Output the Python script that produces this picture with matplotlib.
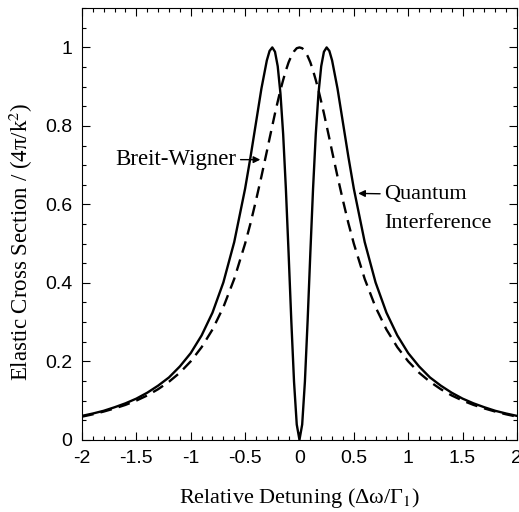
import numpy as np
import matplotlib.pyplot as plt
from matplotlib.ticker import MultipleLocator

# values (positive half; curves are symmetric)
x_half = [0.0, 0.025, 0.05, 0.075, 0.1, 0.125, 0.15, 0.175, 0.2, 0.225, 0.25,
          0.275, 0.3, 0.35, 0.4, 0.45, 0.5, 0.6, 0.7, 0.8, 0.9, 1.0,
          1.1, 1.2, 1.3, 1.4, 1.5, 1.6, 1.7, 1.8, 1.9, 2.0]
breit_wigner = [1.0, 0.998, 0.990, 0.978, 0.962, 0.941, 0.917, 0.891, 0.862, 0.832, 0.800,
                0.768, 0.735, 0.671, 0.610, 0.552, 0.500, 0.410, 0.338, 0.281, 0.236, 0.200,
                0.171, 0.148, 0.129, 0.113, 0.100, 0.089, 0.080, 0.072, 0.065, 0.059]
quantum = [0.0, 0.039, 0.148, 0.303, 0.476, 0.640, 0.779, 0.883, 0.952, 0.989, 1.0,
           0.991, 0.967, 0.895, 0.808, 0.721, 0.640, 0.504, 0.401, 0.324, 0.266, 0.221,
           0.187, 0.159, 0.138, 0.120, 0.105, 0.093, 0.083, 0.074, 0.067, 0.061]

x_full = [-v for v in x_half[:0:-1]] + x_half
bw_full = breit_wigner[:0:-1] + breit_wigner
qi_full = quantum[:0:-1] + quantum

plt.rcParams['mathtext.fontset'] = 'stix'
serif = ['Liberation Serif', 'DejaVu Serif']
sans = ['Liberation Sans', 'DejaVu Sans']

fig = plt.figure(figsize=(5.19, 5.12), dpi=100)
ax = fig.add_axes([0.158, 0.141, 0.838, 0.843])

ax.plot(x_full, qi_full, color='black', lw=1.7)
ax.plot(x_full, bw_full, color='black', lw=1.7, ls=(0, (5, 3)))

ax.set_xlim(-2, 2)
ax.set_ylim(0, 1.1)
ax.xaxis.set_minor_locator(MultipleLocator(0.1))
ax.yaxis.set_minor_locator(MultipleLocator(0.05))
ax.set_yticks([0, 0.2, 0.4, 0.6, 0.8, 1.0])
ax.set_yticklabels(['0', '0.2', '0.4', '0.6', '0.8', '1'])
ax.set_xticks([-2, -1.5, -1, -0.5, 0, 0.5, 1, 1.5, 2])
ax.set_xticklabels(['-2', '-1.5', '-1', '-0.5', '0', '0.5', '1', '1.5', '2'])
ax.tick_params(which='both', direction='in', top=True, right=True, width=0.8)
ax.tick_params(which='major', length=6, pad=7)
ax.tick_params(which='minor', length=3)
for lab in ax.get_xticklabels() + ax.get_yticklabels():
    lab.set_family(sans)
    lab.set_fontsize(14)

ax.set_xlabel('Relative Detuning (Δω/Γ$_1$)', family=serif, fontsize=16, labelpad=14)
ax.set_ylabel('Elastic Cross Section / (4π/k$^2$)', family=serif, fontsize=16.5, labelpad=10)
ax.yaxis.set_label_coords(-0.108, 0.46)

ax.annotate('Breit-Wigner', xy=(-0.36, 0.714), xytext=(-0.58, 0.714),
            family=serif, fontsize=16.5, ha='right', va='center',
            arrowprops=dict(arrowstyle='-|>', color='black', lw=1.0, mutation_scale=10,
                            shrinkA=1, shrinkB=0))
ax.annotate('Quantum', xy=(0.54, 0.628), xytext=(0.78, 0.625),
            family=serif, fontsize=16, ha='left', va='center',
            arrowprops=dict(arrowstyle='-|>', color='black', lw=1.0, mutation_scale=10,
                            shrinkA=1, shrinkB=0))
ax.text(0.78, 0.55, 'Interference', family=serif, fontsize=16, ha='left', va='center')

fig.savefig('out.png', dpi=100)
